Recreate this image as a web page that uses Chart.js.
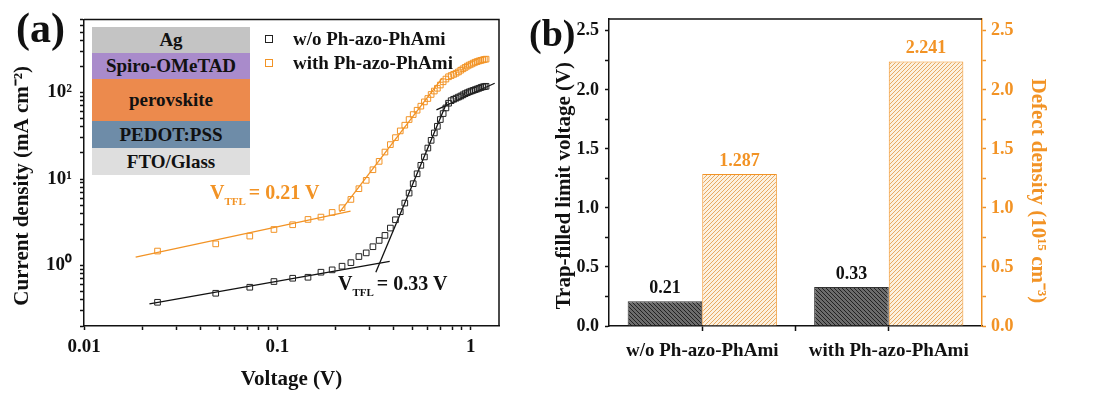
<!DOCTYPE html>
<html>
<head>
<meta charset="utf-8">
<script src="https://cdn.jsdelivr.net/npm/chart.js@4.4.1/dist/chart.umd.min.js"></script>
<style>
  body { margin: 0; background: #fff; }
  #wrap { position: relative; width: 1113px; height: 394px; overflow: hidden;
          font-family: 'Liberation Serif', 'Times New Roman', serif; font-weight: bold; color: #111; }
  canvas { position: absolute; top: 0; }
  .lbl { position: absolute; white-space: nowrap; line-height: 1; }
  .lbl sub { font-size: 11px; vertical-align: -6px; margin-right: 3px; }
  .stack { position: absolute; left: 92px; top: 27px; width: 158px; }
  .stack div { display: flex; align-items: center; justify-content: center; font-size: 19px; }
  .leg { position: absolute; left: 265px; height: 24px; display: flex; align-items: center; font-size: 19px; }
  .leg i { display: inline-block; width: 6px; height: 6px; border: 1px solid; margin-right: 20px; }
</style>
</head>
<body>
<div id="wrap">
  <canvas id="chartA" width="520" height="394" style="left:0"></canvas>
  <canvas id="chartB" width="583" height="394" style="left:530px"></canvas>

  <div class="lbl" style="left:16px;top:7px;font-size:42px">(a)</div>
  <div class="lbl" style="left:529px;top:14px;font-size:38px">(b)</div>

  <div class="stack">
    <div style="height:26px;background:#c4c4c4">Ag</div>
    <div style="height:26px;background:#a98bcb">Spiro-OMeTAD</div>
    <div style="height:42px;background:#ec8a4d">perovskite</div>
    <div style="height:27px;background:#6e8ca8">PEDOT:PSS</div>
    <div style="height:27px;background:#dedede">FTO/Glass</div>
  </div>

  <div class="leg" style="top:27px"><i style="border-color:#222"></i>w/o Ph-azo-PhAmi</div>
  <div class="leg" style="top:51px"><i style="border-color:#f29325"></i>with Ph-azo-PhAmi</div>

  <div class="lbl" style="left:210px;top:182px;font-size:20px;color:#f29325">V<sub>TFL</sub>= 0.21 V</div>
  <div class="lbl" style="left:338px;top:273px;font-size:20px;color:#111">V<sub>TFL</sub>= 0.33 V</div>
</div>

<script>
const FONT = 'Liberation Serif';
const INK = '#111';
const ORANGE = '#f29325';

// (a) SCLC curves, voltage in V, current density in mA cm-2
const voltage = [0.024, 0.048, 0.072, 0.096, 0.12, 0.144, 0.168, 0.192, 0.216, 0.24,
                 0.264, 0.288, 0.312, 0.336, 0.36, 0.384, 0.408, 0.432, 0.456, 0.48,
                 0.504, 0.528, 0.552, 0.576, 0.6, 0.624, 0.648, 0.672, 0.696, 0.72,
                 0.744, 0.768, 0.792, 0.816, 0.84, 0.864, 0.888, 0.912, 0.936, 0.96,
                 0.984, 1.008, 1.032, 1.056, 1.08, 1.104, 1.128, 1.152, 1.176, 1.2];
const jWithout = [0.376, 0.478, 0.561, 0.653, 0.713, 0.732, 0.837, 0.891, 0.982, 1.08,
                  1.27, 1.40, 1.65, 1.95, 2.23, 2.71, 3.38, 4.19, 5.27, 6.88,
                  8.83, 11.5, 14.4, 18.0, 22.8, 28.0, 34.1, 40.7, 48.7, 57.1,
                  66.4, 75.2, 80.5, 83.5, 86, 88.5, 91, 94, 97, 99.5,
                  102, 104, 106, 108, 110, 112, 114, 116, 117, 118];
const jWith = [1.47, 1.78, 2.19, 2.61, 2.96, 3.41, 3.63, 4.11, 4.66, 5.81,
               7.73, 9.65, 12.8, 16.0, 20.5, 25.0, 30.1, 36.0, 41.9, 48.7,
               55.6, 62.4, 69.5, 77.9, 85.2, 94.9, 104, 112, 122, 133,
               143, 152, 157, 162, 167, 173, 181, 188, 195, 202,
               208, 213, 219, 224, 228, 232, 235, 238, 241, 243];

// fitted line segments [x, y] start and end
const fitWithout1 = [[0.0218, 0.36], [0.381, 1.12]];
const fitWithout2 = [[0.323, 0.837], [0.755, 78]];
const fitWithout3 = [[0.665, 63], [1.33, 128]];
const fitWith1 = [[0.0185, 1.25], [0.239, 4.26]];
const fitWith2 = [[0.21, 4.15], [0.712, 147]];

const xMajor = [0.01, 0.1, 1];
const xMajorLabels = ['0.01', '0.1', '1'];
const yMajor = [1, 10, 100];
const yMajorLabels = ['10\u2070', '10\u00b9', '10\u00b2'];

// (b) bars
const groups = ['w/o Ph-azo-PhAmi', 'with Ph-azo-PhAmi'];
const vtfl = [0.21, 0.33];
const defect = [1.287, 2.241];
const barTicks = [0, 0.25, 0.5, 0.75, 1, 1.25, 1.5, 1.75, 2, 2.25, 2.5];

function logTicks(min, max) {
  const out = [];
  for (let e = -3; e <= 3; e++) {
    for (let k = 1; k <= 9; k++) {
      const v = +(k * Math.pow(10, e)).toPrecision(6);
      if (v >= min - 1e-9 && v <= max + 1e-9) out.push(v);
    }
  }
  return out;
}

function majorLabel(v, majors, labels) {
  const i = majors.findIndex(m => Math.abs(m - v) < m * 1e-6);
  return i >= 0 ? labels[i] : '';
}

function hatch(bg, line, forward) {
  const c = document.createElement('canvas');
  c.width = 4; c.height = 4;
  const g = c.getContext('2d');
  g.fillStyle = bg;
  g.fillRect(0, 0, 4, 4);
  g.strokeStyle = line;
  g.lineWidth = 1;
  g.beginPath();
  if (forward) {
    g.moveTo(0, 4); g.lineTo(4, 0);
    g.moveTo(-1, 1); g.lineTo(1, -1);
    g.moveTo(3, 5); g.lineTo(5, 3);
  } else {
    g.moveTo(0, 0); g.lineTo(4, 4);
    g.moveTo(-1, 3); g.lineTo(1, 5);
    g.moveTo(3, -1); g.lineTo(5, 1);
  }
  g.stroke();
  return g.createPattern(c, 'repeat');
}

const pts = (xs, ys) => xs.map((x, i) => ({ x: x, y: ys[i] }));
const seg = s => s.map(p => ({ x: p[0], y: p[1] }));

function fitLine(s, color) {
  return { data: seg(s), showLine: true, pointRadius: 0, borderColor: color, borderWidth: 1.3 };
}

// box lines that are not axes
const frameA = {
  id: 'frameA',
  afterDraw(chart) {
    const { ctx, chartArea: a } = chart;
    ctx.save();
    ctx.strokeStyle = INK;
    ctx.lineWidth = 1.5;
    ctx.beginPath();
    ctx.moveTo(a.left, a.top);
    ctx.lineTo(a.right, a.top);
    ctx.lineTo(a.right, a.bottom);
    ctx.stroke();
    ctx.restore();
  }
};

const frameB = {
  id: 'frameB',
  afterDraw(chart) {
    const { ctx, chartArea: a } = chart;
    const x = chart.scales.x;
    const mid = (x.getPixelForValue(0) + x.getPixelForValue(1)) / 2;
    ctx.save();
    ctx.strokeStyle = INK;
    ctx.lineWidth = 1.5;
    ctx.beginPath();
    ctx.moveTo(a.left, a.top);
    ctx.lineTo(a.right, a.top);
    ctx.moveTo(mid, a.bottom);
    ctx.lineTo(mid, a.bottom + 5);
    ctx.stroke();
    ctx.restore();
  }
};

const valueLabels = {
  id: 'valueLabels',
  afterDatasetsDraw(chart) {
    const ctx = chart.ctx;
    ctx.save();
    ctx.font = 'bold 18px ' + FONT;
    ctx.textAlign = 'center';
    ctx.textBaseline = 'alphabetic';
    chart.data.datasets.forEach((ds, i) => {
      chart.getDatasetMeta(i).data.forEach((bar, j) => {
        ctx.fillStyle = i === 0 ? INK : ORANGE;
        ctx.fillText(ds.data[j].toFixed(i === 0 ? 2 : 3), bar.x, bar.y - 8);
      });
    });
    ctx.restore();
  }
};

const tickFont = size => ({ family: FONT, size: size, weight: 'bold' });
const titleFont = { family: FONT, size: 21, weight: 'bold', lineHeight: 1 };

// the original titles sit a little below the middle of their axes;
// blank space on one end of the string moves the centred text along
const pad = n => ' '.repeat(n);

new Chart(document.getElementById('chartA'), {
  type: 'scatter',
  data: {
    datasets: [
      { data: pts(voltage, jWithout), pointStyle: 'rect', pointRadius: 4, borderWidth: 1,
        borderColor: '#222', backgroundColor: 'rgba(0,0,0,0)' },
      { data: pts(voltage, jWith), pointStyle: 'rect', pointRadius: 4, borderWidth: 1,
        borderColor: ORANGE, backgroundColor: 'rgba(0,0,0,0)' },
      fitLine(fitWithout1, INK),
      fitLine(fitWithout2, INK),
      fitLine(fitWithout3, INK),
      fitLine(fitWith1, ORANGE),
      fitLine(fitWith2, ORANGE)
    ]
  },
  options: {
    responsive: false,
    animation: false,
    events: [],
    layout: { padding: { top: 19, right: 21, left: 0, bottom: 0 } },
    plugins: { legend: { display: false }, tooltip: { enabled: false } },
    scales: {
      x: {
        type: 'logarithmic',
        min: 0.01,
        max: 1.4,
        afterBuildTicks: s => { s.ticks = logTicks(0.01, 1.4).map(v => ({ value: v })); },
        afterFit: s => { s.height = 68; },
        ticks: { autoSkip: false, maxRotation: 0, padding: 6, color: INK, font: tickFont(19),
                 callback: v => majorLabel(v, xMajor, xMajorLabels) },
        grid: { drawOnChartArea: false, tickLength: 4, tickColor: INK, tickWidth: 1.5 },
        border: { color: INK, width: 1.5 },
        title: { display: true, text: 'Voltage (V)', color: INK, font: titleFont,
                 padding: { top: 0, bottom: 3.5 } }
      },
      y: {
        type: 'logarithmic',
        min: 0.2,
        max: 700,
        afterBuildTicks: s => { s.ticks = logTicks(0.2, 700).map(v => ({ value: v })); },
        afterFit: s => { s.width = 84; },
        ticks: { autoSkip: false, padding: 8, color: INK, font: tickFont(19),
                 callback: v => majorLabel(v, yMajor, yMajorLabels) },
        grid: { drawOnChartArea: false, tickLength: 4, tickColor: INK, tickWidth: 1.5 },
        border: { color: INK, width: 1.5 },
        title: { display: true, text: 'Current density (mA cm\u207b\u00b2)' + pad(5), color: INK, font: titleFont,
                 padding: { top: 12.5, bottom: 0 } }
      }
    }
  },
  plugins: [frameA]
});

new Chart(document.getElementById('chartB'), {
  type: 'bar',
  data: {
    labels: groups,
    datasets: [
      { data: vtfl, yAxisID: 'y', backgroundColor: hatch('#6c6c6c', '#222', false),
        borderColor: '#333', borderWidth: 1 },
      { data: defect, yAxisID: 'y2', backgroundColor: hatch('#fcf1e0', '#e8aa62', true),
        borderColor: ORANGE, borderWidth: 1 }
    ]
  },
  options: {
    responsive: false,
    animation: false,
    events: [],
    layout: { padding: { top: 19, right: 61, left: 0, bottom: 0 } },
    datasets: { bar: { categoryPercentage: 0.8, barPercentage: 1.0 } },
    plugins: { legend: { display: false }, tooltip: { enabled: false } },
    scales: {
      x: {
        afterFit: s => { s.height = 68; },
        ticks: { padding: 9, color: INK, font: tickFont(19) },
        grid: { offset: false, drawOnChartArea: false, tickLength: 5, tickColor: INK, tickWidth: 1.5 },
        border: { color: INK, width: 1.5 }
      },
      y: {
        position: 'left',
        min: 0,
        max: 2.6,
        afterBuildTicks: s => { s.ticks = barTicks.map(v => ({ value: v })); },
        afterFit: s => { s.width = 79; },
        ticks: { padding: 6, color: INK, font: tickFont(18),
                 callback: v => (Math.abs(v * 2 - Math.round(v * 2)) < 1e-6 ? v.toFixed(1) : '') },
        grid: { drawOnChartArea: false, tickLength: 4, tickColor: INK, tickWidth: 1.5 },
        border: { color: INK, width: 1.5 },
        title: { display: true, text: 'Trap-filled limit voltage (V)' + pad(5), color: INK, font: titleFont,
                 padding: { top: 24.5, bottom: 0 } }
      },
      y2: {
        position: 'right',
        min: 0,
        max: 2.6,
        afterBuildTicks: s => { s.ticks = barTicks.map(v => ({ value: v })); },
        afterFit: s => { s.width = 70; },
        ticks: { padding: 5, color: ORANGE, font: tickFont(18),
                 callback: v => (Math.abs(v * 2 - Math.round(v * 2)) < 1e-6 ? v.toFixed(1) : '') },
        grid: { drawOnChartArea: false, tickLength: 4, tickColor: ORANGE, tickWidth: 1.5 },
        border: { color: ORANGE, width: 1.5 },
        title: { display: true, text: pad(7) + 'Defect density (10\u00b9\u2075 cm\u207b\u00b3)', color: ORANGE, font: titleFont,
                 padding: { top: 4.5, bottom: 0 } }
      }
    }
  },
  plugins: [frameB, valueLabels]
});
</script>
</body>
</html>
